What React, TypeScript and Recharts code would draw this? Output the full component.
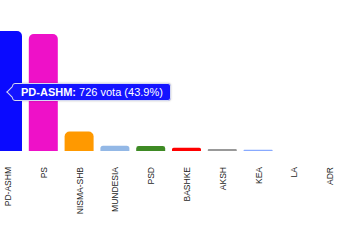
import { BarChart, Bar, XAxis, YAxis, Tooltip, Cell } from 'recharts'

const parties = ['PD-ASHM', 'PS', 'NISMA-SHB', 'MUNDESIA', 'PSD', 'BASHKE', 'AKSH', 'KEA', 'LA', 'ADR']
const votes = [726, 708, 118, 32, 30, 20, 12, 8, 0, 0]
const colors = ['#0a0aff', '#ee11c8', '#ff9900', '#93b8e6', '#3e8a24', '#ff0000', '#999999', '#88aaff', '#cccccc', '#cccccc']

const total = votes.reduce((a, b) => a + b, 0)
const data = parties.map((name, i) => ({ name, votes: votes[i], color: colors[i] }))

const font = '"Liberation Sans", Arial, sans-serif'

function PartyTick({ x, y, payload }: any) {
  return (
    <text x={x} y={y} dx={-16} dy={3} transform={`rotate(-90 ${x} ${y})`}
      textAnchor="end" fontSize={8.5} fill="#1f1f1f" fontFamily={font}>
      {payload.value}
    </text>
  )
}

function VoteTip({ active, payload }: any) {
  if (!active || !payload || !payload.length) return null
  const p = payload[0].payload
  const pct = ((p.votes / total) * 100).toFixed(1)
  return (
    <div style={{ position: 'relative', marginLeft: 3, background: '#1414ff', color: '#fff',
      border: '1px solid #d4d8f4', borderRadius: 3, padding: '0 7px 0 8px', height: 16,
      fontSize: 11, lineHeight: '16px', whiteSpace: 'nowrap', fontFamily: font,
      boxShadow: '0 0 2px rgba(0,0,0,0.25)' }}>
      <div style={{ position: 'absolute', left: -5, top: 4, width: 7, height: 7, background: '#1414ff',
        borderLeft: '1px solid #d4d8f4', borderBottom: '1px solid #d4d8f4', transform: 'rotate(45deg)' }} />
      <span style={{ position: 'relative' }}><b>{p.name}:</b> {p.votes} vota ({pct}%)</span>
    </div>
  )
}

export default function App() {
  return (
    <div style={{ position: 'absolute', left: 0, top: 0, width: 350, height: 250, overflow: 'hidden', background: '#fff' }}>
      <div style={{ position: 'absolute', left: -10, top: 0 }}>
        <BarChart width={372} height={250} data={data} margin={{ top: 31, right: 14, bottom: 0, left: 0 }}>
          <XAxis dataKey="name" interval={0} axisLine={false} tickLine={false} tickSize={0} tickMargin={0}
            height={99} tick={<PartyTick />} />
          <YAxis hide domain={[0, 'dataMax']} />
          <Tooltip defaultIndex={0} cursor={false} isAnimationActive={false} content={<VoteTip />}
            position={{ x: 19, y: 83 }} wrapperStyle={{ outline: 'none' }} />
          <Bar dataKey="votes" barSize={29} radius={[5, 5, 0, 0]} isAnimationActive={false}>
            {data.map((d) => <Cell key={d.name} fill={d.color} />)}
          </Bar>
        </BarChart>
      </div>
    </div>
  )
}
